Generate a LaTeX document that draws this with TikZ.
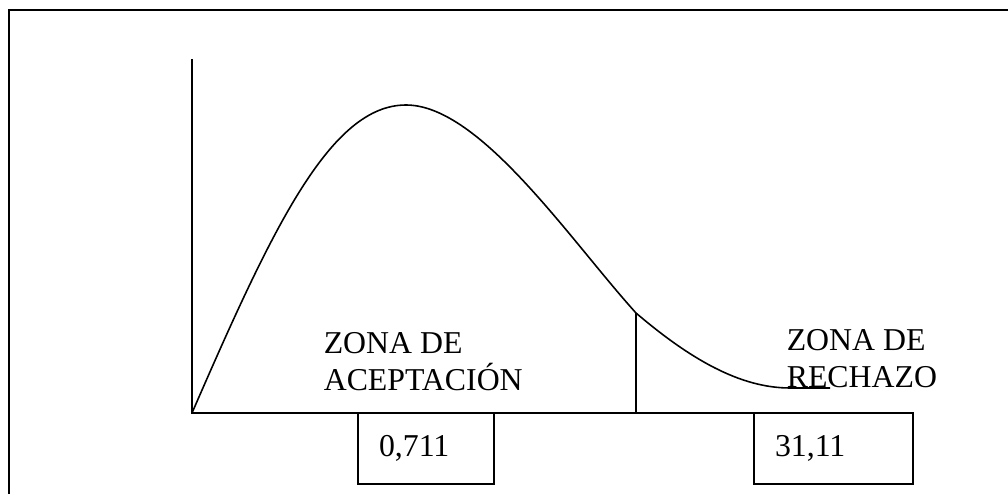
\documentclass[tikz,border=0pt]{standalone}
\usepackage{fontspec}
\setmainfont{Liberation Serif}
\usepackage{tikz}

\begin{document}
\begin{tikzpicture}[x=0.2mm,y=0.2mm,line width=0.9pt,
  zona/.style={anchor=base west,align=left,inner sep=0pt,font=\fontsize{18.1}{21.6}\selectfont},
  valbox/.style={draw,minimum height=14.2mm,inner xsep=4.2mm,align=left,font=\fontsize{18.1}{21.6}\selectfont}]
\useasboundingbox (0,0) rectangle (1008,494);

% marco
\draw[line width=1.3pt] (9,-20) rectangle (1040,484);

% ejes
\coordinate (o) at (192,81);
\coordinate (ytop) at (192,435);
\coordinate (xend) at (830,81);
\draw (ytop) -- (o) -- (xend);

% curva
\draw (o) .. controls (272,265) and (330,389) .. (406,389)
  .. controls (480,389) and (570,254) .. (636,181) coordinate (crit)
  .. controls (690,135) and (740,106) .. (790,106) -- (830,106);
\draw (crit) -- (636,81);

\node[zona] (acep) at (323,103) {ZONA DE\\ACEPTACIÓN};
\node[zona] (rech) at (786,106) {ZONA DE\\RECHAZO};

\node[valbox,text width=18.8mm] (v1) at (426,45.5) {0,711};
\node[valbox,text width=23.4mm] (v2) at (833.5,45.5) {31,11};

\end{tikzpicture}
\end{document}
